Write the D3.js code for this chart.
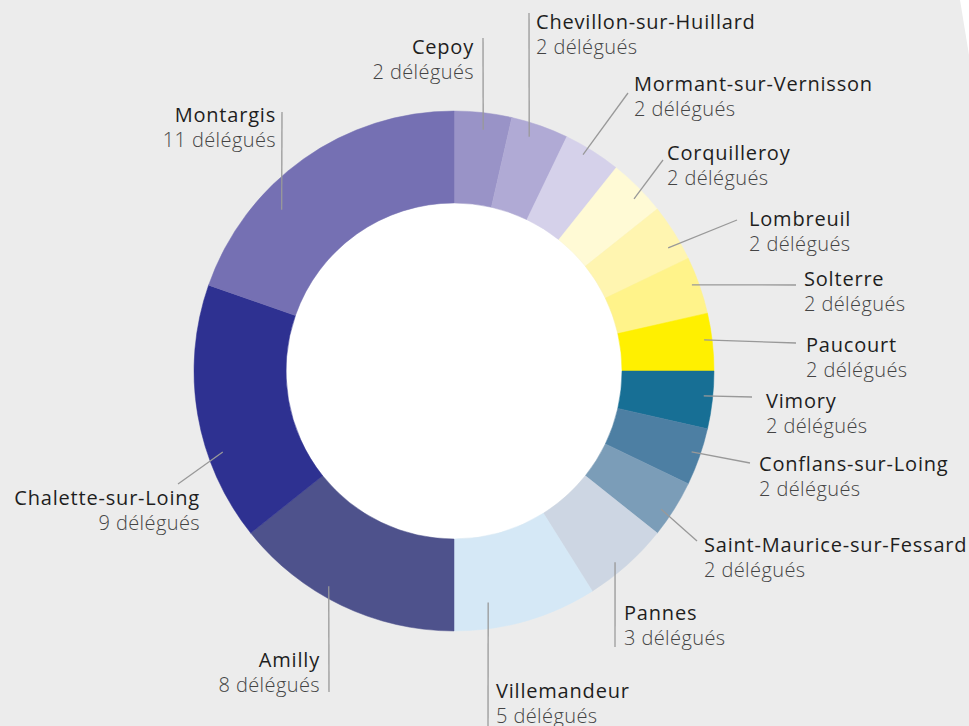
<!DOCTYPE html>
<html>
<head>
<meta charset="utf-8">
<script src="https://cdn.jsdelivr.net/npm/d3@7"></script>
<style>
  body { margin: 0; background: #ececec; }
  .name { font-family: "Open Sans", sans-serif; font-size: 20px; font-weight: 500; fill: #1e1e1e; letter-spacing: 0.8px; }
  .count { font-family: "Open Sans", sans-serif; font-size: 20px; font-weight: 300; fill: #444; letter-spacing: 0.4px; }
</style>
</head>
<body>
<div id="chart"></div>
<script>
var width = 969, height = 726;
var cx = 454, cy = 371;
var outerR = 260, innerR = 168;

// communes, clockwise from 12 o'clock
var communes = ["Cepoy", "Chevillon-sur-Huillard", "Mormant-sur-Vernisson", "Corquilleroy",
  "Lombreuil", "Solterre", "Paucourt", "Vimory", "Conflans-sur-Loing",
  "Saint-Maurice-sur-Fessard", "Pannes", "Villemandeur", "Amilly",
  "Chalette-sur-Loing", "Montargis"];
var delegues = [2, 2, 2, 2, 2, 2, 2, 2, 2, 2, 3, 5, 8, 9, 11];
var colors = ["#9993c7", "#b0aad5", "#d5d1ea", "#fffad5", "#fff5b0", "#fff38a", "#fff000",
  "#176f95", "#4d7fa3", "#7b9db8", "#cdd6e3", "#d5e8f6", "#4e528c", "#2e3191", "#7570b3"];

// label layout: leader start (angle in deg, radius), leader end, text anchor
var labelLayout = [
  {a: 6.9,   r: 243, ex: 483, ey: 38,  tx: 474, ty: 54,  anchor: "end"},
  {a: 17.8,  r: 246, ex: 529, ey: 13,  tx: 536, ty: 29,  anchor: "start"},
  {a: 30.8,  r: 252, ex: 628, ey: 93,  tx: 634, ty: 91,  anchor: "start"},
  {a: 46.3,  r: 249, ex: 663, ey: 160, tx: 667, ty: 160, anchor: "start"},
  {a: 60.1,  r: 247, ex: 737, ey: 220, tx: 749, ty: 226, anchor: "start"},
  {a: 70.1,  r: 253, ex: 796, ey: 285, tx: 804, ty: 286, anchor: "start"},
  {a: 82.9,  r: 252, ex: 796, ey: 343, tx: 806, ty: 352, anchor: "start"},
  {a: 95.7,  r: 251, ex: 752, ey: 397, tx: 766, ty: 408, anchor: "start"},
  {a: 108.8, r: 251, ex: 750, ey: 463, tx: 759, ty: 471, anchor: "start"},
  {a: 123.7, r: 249, ex: 697, ey: 541, tx: 704, ty: 552, anchor: "start"},
  {a: 139.9, r: 250, ex: 615, ey: 647, tx: 624, ty: 620, anchor: "start"},
  {a: 171.6, r: 234, ex: 488, ey: 726, tx: 496, ty: 698, anchor: "start"},
  {a: 210.2, r: 249, ex: 329, ey: 692, tx: 320, ty: 667, anchor: "end"},
  {a: 250.7, r: 245, ex: 178, ey: 484, tx: 200, ty: 505, anchor: "end"},
  {a: 313.1, r: 236, ex: 282, ey: 112, tx: 276, ty: 122, anchor: "end"}
];

var data = communes.map(function(d, i) {
  return {name: d, value: delegues[i], color: colors[i], layout: labelLayout[i]};
});

var svg = d3.select("#chart").append("svg")
  .attr("width", width)
  .attr("height", height);

svg.append("rect").attr("width", width).attr("height", height).style("fill", "#ececec");
// white corner top-right
svg.append("path").attr("d", "M960,0 L969,0 L969,55 Z").style("fill", "#ffffff");

var pie = d3.pie().sort(null).value(function(d) { return d.value; });
var arc = d3.arc().innerRadius(innerR).outerRadius(outerR);

var g = svg.append("g").attr("transform", "translate(" + cx + "," + cy + ")");

g.append("circle").attr("r", innerR).style("fill", "#ffffff");

g.selectAll(".slice")
  .data(pie(data))
  .enter().append("path")
  .attr("class", "slice")
  .attr("d", arc)
  .style("fill", function(d) { return d.data.color; })
  .style("stroke", function(d) { return d.data.color; })
  .style("stroke-width", 0.5);

///////////////////////////////////////////////////////////////////////////
//////////////////////////////// Labels ///////////////////////////////////
///////////////////////////////////////////////////////////////////////////

var labels = svg.append("g").attr("class", "labels");

data.forEach(function(d) {
  var l = d.layout;
  var rad = l.a * Math.PI / 180;
  var sx = cx + l.r * Math.sin(rad),
      sy = cy - l.r * Math.cos(rad);
  labels.append("line")
    .attr("x1", sx).attr("y1", sy)
    .attr("x2", l.ex).attr("y2", l.ey)
    .style("stroke", "#999")
    .style("stroke-width", 1.3);

  var t = labels.append("text")
    .attr("text-anchor", l.anchor);
  t.append("tspan")
    .attr("class", "name")
    .attr("x", l.tx).attr("y", l.ty)
    .text(d.name);
  t.append("tspan")
    .attr("class", "count")
    .attr("x", l.tx).attr("y", l.ty + 25)
    .text(d.value + " délégués");
});
</script>
</body>
</html>
